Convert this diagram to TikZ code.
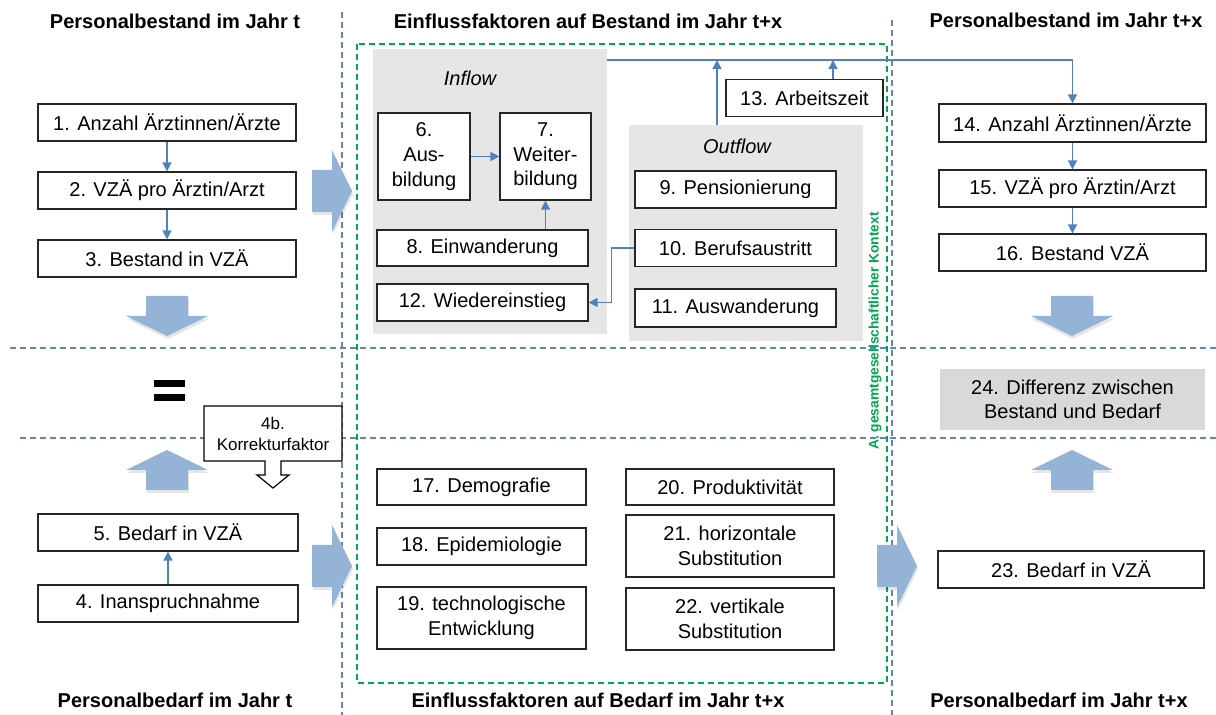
\documentclass[tikz,border=0pt]{standalone}
\usepackage{fontspec}
\setmainfont{Liberation Sans}
\usetikzlibrary{arrows.meta}

\definecolor{linkblue}{RGB}{79,129,189}
\definecolor{fatblue}{RGB}{149,179,215}
\definecolor{sepblue}{RGB}{100,130,190}
\definecolor{ctxgreen}{RGB}{0,166,80}
\definecolor{bggray}{RGB}{230,230,230}
\definecolor{diffgray}{RGB}{217,217,217}

\begin{document}
\begin{tikzpicture}[
      x=0.5pt, y=-0.5pt,
      box/.style={draw=black!85, fill=white, line width=0.6pt, align=center,
                  inner sep=0pt, font=\fontsize{10}{12.3}\selectfont},
      head/.style={font=\fontsize{10}{12}\selectfont\bfseries},
      area/.style={fill=bggray, inner sep=0pt},
      conn/.style={draw=linkblue, line width=0.7pt,
                   -{Triangle[length=4.5pt,width=4.5pt]}},
      sep/.style={draw=sepblue, line width=0.6pt, dash pattern=on 3pt off 2pt},
      ctx/.style={draw=ctxgreen, line width=0.6pt, dash pattern=on 3pt off 2pt},
      fat/.pic={\path[pic actions] (-20,-21) -- (0,-21) -- (0,-41) -- (20,0)
                  -- (0,41) -- (0,21) -- (-20,21) -- cycle;}
    ]
      \useasboundingbox (0,0) rectangle (1216,715);

      % separators
      \draw[sep] (342,12) -- (342,715);
      \draw[sep] (892,20) -- (892,715);
      \draw[sep] (10,348) -- (1216,348);
      \draw[sep] (20,438) -- (1216,438);
      \draw[ctx] (357,44) rectangle (887,683);
      \node[rotate=90, text=ctxgreen, font=\fontsize{6.9}{8}\selectfont\bfseries]
        (kontext) at (875,331) {A. gesamtgesellschaftlicher Kontext};

      % headings
      \node[head] (h1) at (175,21) {Personalbestand im Jahr t};
      \node[head] (h2) at (588,21) {Einflussfaktoren auf Bestand im Jahr t+x};
      \node[head] (h3) at (1066,20) {Personalbestand im Jahr t+x};
      \node[head] (h4) at (175,700) {Personalbedarf im Jahr t};
      \node[head] (h5) at (598,700) {Einflussfaktoren auf Bedarf im Jahr t+x};
      \node[head] (h6) at (1059,700) {Personalbedarf im Jahr t+x};

      % big arrows, with a faint shadow
      \foreach \ax/\ay/\ang in {332/191/0, 332/566/0, 897/566/0, 167/316/-90,
                                1072/316/-90, 167/470/90, 1072/470/90} {
        \pic[rotate=\ang, fill=black, fill opacity=0.1] at (\ax+1,\ay+3) {fat};
        \pic[rotate=\ang, fill=fatblue] at (\ax,\ay) {fat};
      }

      % Bestand t
      \node[box, minimum width=129pt, minimum height=18.5pt] (b1) at (167,122.5) {1. Anzahl Ärztinnen/Ärzte};
      \node[box, minimum width=129pt, minimum height=18.5pt] (b2) at (167,190.5) {2. VZÄ pro Ärztin/Arzt};
      \node[box, minimum width=129pt, minimum height=18.5pt] (b3) at (167,258.5) {3. Bestand in VZÄ};
      \draw[conn] (b1) -- (b2);
      \draw[conn] (b2) -- (b3);

      % equals and correction factor
      \fill (154,380) rectangle (185,387);
      \fill (154,394) rectangle (185,401);
      \draw[fill=white, line width=0.6pt] (204,406) -- (342,406) -- (342,461)
        -- (281,461) -- (281,475) -- (289,475) -- (273,488) -- (257,475)
        -- (265,475) -- (265,461) -- (204,461) -- cycle;
      \node[font=\fontsize{8.5}{10.5}\selectfont, align=center] (korr) at (273,433.5) {4b.\\Korrekturfaktor};

      % Bedarf t
      \node[box, minimum width=130pt, minimum height=18.5pt] (b5) at (168,532.5) {5. Bedarf in VZÄ};
      \node[box, minimum width=130pt, minimum height=18.5pt] (b4) at (168,603.5) {4. Inanspruchnahme};
      \draw[conn] (b4) -- (b5);

      % Inflow / Outflow
      \node[area, minimum width=117pt, minimum height=142.5pt] (inflow) at (490,191.5) {};
      \node[area, minimum width=117pt, minimum height=108pt] (outflow) at (746,233) {};
      \node[font=\fontsize{10}{12}\selectfont\itshape] (inlab) at (470,78) {Inflow};
      \node[font=\fontsize{10}{12}\selectfont\itshape] (outlab) at (737,146) {Outflow};
      \node[box, minimum width=46pt, minimum height=43.5pt] (b6) at (424,156.5) {6.\\Aus-\\bildung};
      \node[box, minimum width=45.5pt, minimum height=43.5pt] (b7) at (545.5,156.5) {7.\\Weiter-\\bildung};
      \node[box, minimum width=105.5pt, minimum height=18pt] (b8) at (482.5,248) {8. Einwanderung};
      \node[box, minimum width=105.5pt, minimum height=18.5pt] (b12) at (482.5,302.5) {12. Wiedereinstieg};
      \node[box, minimum width=100.5pt, minimum height=18.5pt] (b9) at (735.5,189.5) {9. Pensionierung};
      \node[box, minimum width=100.5pt, minimum height=18.5pt] (b10) at (735.5,248) {10. Berufsaustritt};
      \node[box, minimum width=100.5pt, minimum height=19pt] (b11) at (735.5,308) {11. Auswanderung};
      \node[box, minimum width=78.5pt, minimum height=18.5pt] (b13) at (804.5,98) {13. Arbeitszeit};
      \draw[conn] (b6) -- (b7);
      \draw[conn] (b8.north -| b7.south) -- (b7.south);
      \draw[conn] (b10.west) -- ++(-23,0) |- (b12.east);

      % Bestand t+x
      \node[box, minimum width=133.5pt, minimum height=19pt] (b14) at (1072.5,123) {14. Anzahl Ärztinnen/Ärzte};
      \node[box, minimum width=133.5pt, minimum height=18.5pt] (b15) at (1072.5,188.5) {15. VZÄ pro Ärztin/Arzt};
      \node[box, minimum width=133.5pt, minimum height=18.5pt] (b16) at (1072.5,252.5) {16. Bestand VZÄ};
      \draw[conn] (b14) -- (b15);
      \draw[conn] (b15) -- (b16);
      \coordinate (top) at (inflow.east |- 0,60);
      \coordinate (up1) at (717,60);
      \coordinate (up2) at (833,60);
      \draw[conn] (top) -| (b14.north);
      \draw[conn] (outflow.north -| up1) -- (up1);
      \draw[conn] (b13.north -| up2) -- (up2);

      % Bedarf factors
      \node[box, minimum width=104.5pt, minimum height=18pt] (b17) at (481.5,487) {17. Demografie};
      \node[box, minimum width=104.5pt, minimum height=18.5pt] (b18) at (481.5,546.5) {18. Epidemiologie};
      \node[box, minimum width=104.5pt, minimum height=31pt] (b19) at (481.5,618) {19. technologische\\Entwicklung};
      \node[box, minimum width=104pt, minimum height=18pt] (b20) at (730,487) {20. Produktivität};
      \node[box, minimum width=104pt, minimum height=31pt] (b21) at (730,546) {21. horizontale\\Substitution};
      \node[box, minimum width=104pt, minimum height=31pt] (b22) at (730,619) {22. vertikale\\Substitution};

      % t+x result
      \node[box, draw=none, fill=diffgray, minimum width=132.5pt, minimum height=30.5pt] (b24) at (1072.5,399.5) {24. Differenz zwischen\\Bestand und Bedarf};
      \node[box, minimum width=133pt, minimum height=18.5pt] (b23) at (1071,569.5) {23. Bedarf in VZÄ};
    \end{tikzpicture}
\end{document}
